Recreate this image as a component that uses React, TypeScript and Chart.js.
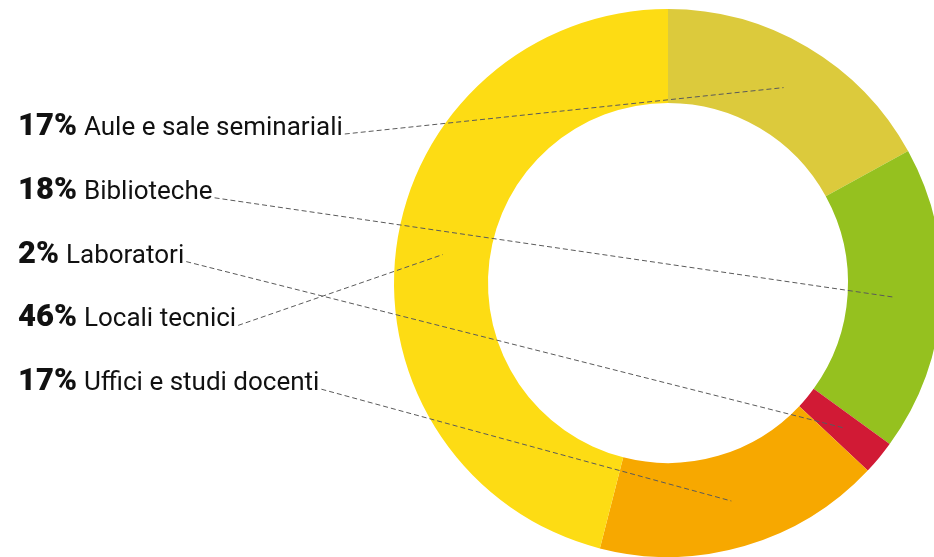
import React, { useEffect, useRef } from "react";
import { Chart, registerables } from "chart.js";

Chart.register(...registerables);

// Data in clockwise order starting at 12 o'clock
const categories = [
  "Aule e sale seminariali",
  "Biblioteche",
  "Laboratori",
  "Uffici e studi docenti",
  "Locali tecnici",
];
const values = [17, 18, 2, 17, 46];
const colors = ["#DCCA3C", "#95C11F", "#D11A35", "#F7A800", "#FDDC14"];
// order of the labels listed on the left (indexes into categories)
const labelOrder = [0, 1, 2, 4, 3];

const labelPlugin = {
  id: "sideLabels",
  afterDraw(chart: any) {
    const ctx = chart.ctx;
    const meta = chart.getDatasetMeta(0);
    const x0 = 18;
    const baseY = 135;
    const step = 63.8;
    ctx.save();
    labelOrder.forEach((idx, row) => {
      const y = baseY + row * step;
      const pct = values[idx] + "%";
      ctx.textBaseline = "alphabetic";
      ctx.textAlign = "left";
      ctx.fillStyle = "#111";
      ctx.font = "900 31px Roboto";
      ctx.fillText(pct, x0, y);
      const w1 = ctx.measureText(pct).width;
      ctx.font = "400 26px Roboto";
      const tx = x0 + w1 + 7;
      ctx.fillText(categories[idx], tx, y);
      const w2 = ctx.measureText(categories[idx]).width;
      const p = meta.data[idx].tooltipPosition();
      ctx.beginPath();
      ctx.setLineDash([5, 3]);
      ctx.lineWidth = 1;
      ctx.strokeStyle = "#5a5a5a";
      ctx.moveTo(tx + w2 + 2, y - 1);
      ctx.lineTo(p.x, p.y);
      ctx.stroke();
    });
    ctx.restore();
  },
};

export default function App() {
  const ref = useRef<HTMLCanvasElement>(null);
  useEffect(() => {
    if (!ref.current) return;
    const chart = new Chart(ref.current, {
      type: "doughnut",
      data: {
        labels: categories,
        datasets: [
          {
            data: values,
            backgroundColor: colors,
            borderWidth: 0,
          },
        ],
      },
      options: {
        responsive: false,
        animation: false,
        cutout: "65.7%",
        layout: { padding: { left: 394, right: 18, top: 9, bottom: 0 } },
        plugins: {
          legend: { display: false },
          tooltip: { enabled: false },
        },
      },
      plugins: [labelPlugin],
    });
    return () => chart.destroy();
  }, []);
  return (
    <div
      style={{
        position: "fixed",
        left: 0,
        top: 0,
        width: 934,
        height: 557,
        overflow: "hidden",
        background: "#fff",
      }}
    >
      <canvas ref={ref} width={960} height={557} style={{ display: "block" }} />
    </div>
  );
}
